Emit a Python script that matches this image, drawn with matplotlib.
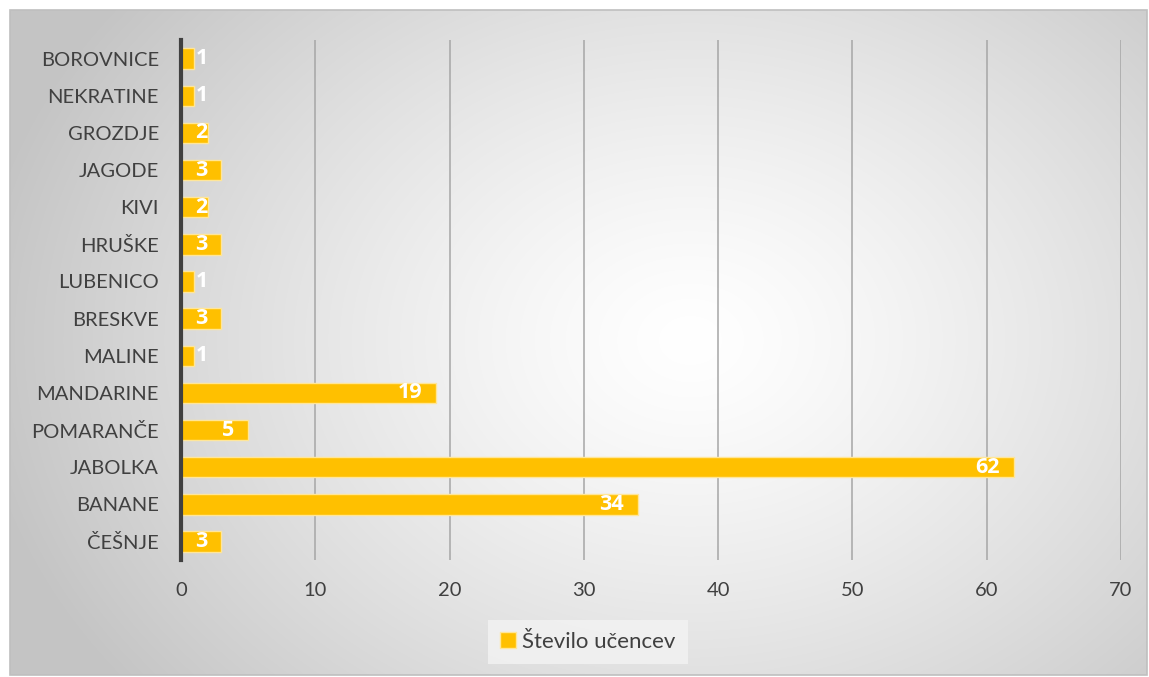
import numpy as np
import matplotlib
matplotlib.use("Agg")
import matplotlib.pyplot as plt
from matplotlib.patches import Rectangle, Patch

categories = ['ČEŠNJE', 'BANANE', 'JABOLKA', 'POMARANČE', 'MANDARINE', 'MALINE',
              'BRESKVE', 'LUBENICO', 'HRUŠKE', 'KIVI', 'JAGODE', 'GROZDJE',
              'NEKRATINE', 'BOROVNICE']
values = [3, 34, 62, 5, 19, 1, 3, 1, 3, 2, 3, 2, 1, 1]
series_name = 'Število učencev'
x_ticks = [0, 10, 20, 30, 40, 50, 60, 70]

plt.rcParams['font.family'] = ['Lato', 'DejaVu Sans']

W, H = 1149, 677
fig = plt.figure(figsize=(W / 100, H / 100), dpi=100)
fig.patch.set_facecolor('white')

# background with radial gradient
bx0, by0, bx1, by1 = 10, 10, 1147, 675
bg = fig.add_axes([bx0 / W, 1 - by1 / H, (bx1 - bx0) / W, (by1 - by0) / H])
yy, xx = np.mgrid[by0:by1, bx0:bx1]
d = np.sqrt(((xx - 690) / 720.0) ** 2 + ((yy - 340) / 560.0) ** 2)
g = 1 - 0.23 * np.clip(d, 0, 1) ** 1.3
img = np.dstack([g, g, g])
bg.imshow(img, aspect='auto', extent=[0, 1, 0, 1], interpolation='bilinear')
bg.set_axis_off()
fig.patches.append(Rectangle((bx0 / W, 1 - by1 / H), (bx1 - bx0) / W, (by1 - by0) / H,
                             transform=fig.transFigure, fill=False,
                             edgecolor='#bfbfbf', linewidth=1.2, zorder=5))

ax = fig.add_axes([181 / W, 1 - 560 / H, (1121 - 181) / W, (560 - 40) / H])
ax.patch.set_alpha(0)

ypos = np.arange(len(categories))
ax.barh(ypos, values, height=0.55, color='#FFC000', edgecolor='#FFE699',
        linewidth=1.0, zorder=3)

for y, v in zip(ypos, values):
    xt = max(v - 1.0, 2.0)
    ax.text(xt, y, str(v), ha='right', va='center', color='white',
            fontsize=15.5, fontweight='bold', family=['Open Sans', 'DejaVu Sans'],
            zorder=4)

ax.set_xlim(0, 70)
ax.set_ylim(-0.5, len(categories) - 0.5)
ax.set_xticks(x_ticks)
ax.set_yticks(ypos)
ax.set_yticklabels(categories)
ax.tick_params(axis='both', length=0, labelsize=14.5, colors='#404040')
ax.tick_params(axis='x', pad=16)
ax.tick_params(axis='y', pad=16)
ax.grid(axis='x', color='#a6a6a6', linewidth=1.1, zorder=1)
for s in ['top', 'right', 'bottom']:
    ax.spines[s].set_visible(False)
ax.spines['left'].set_color('#404040')
ax.spines['left'].set_linewidth(3)
ax.spines['left'].set_zorder(5)

handle = Patch(facecolor='#FFC000', edgecolor='#FFE699', label=series_name)
leg = fig.legend(handles=[handle], loc='center', bbox_to_anchor=(588 / W, 1 - 642 / H),
                 frameon=True, fontsize=16, handlelength=0.7, handleheight=0.7,
                 handletextpad=0.3, borderpad=0.55, borderaxespad=0, fancybox=False)
leg.get_frame().set_facecolor('#f2f2f2')
leg.get_frame().set_edgecolor('none')
leg.get_frame().set_alpha(0.85)
for t in leg.get_texts():
    t.set_color('#404040')

fig.savefig('out.png', dpi=100)
